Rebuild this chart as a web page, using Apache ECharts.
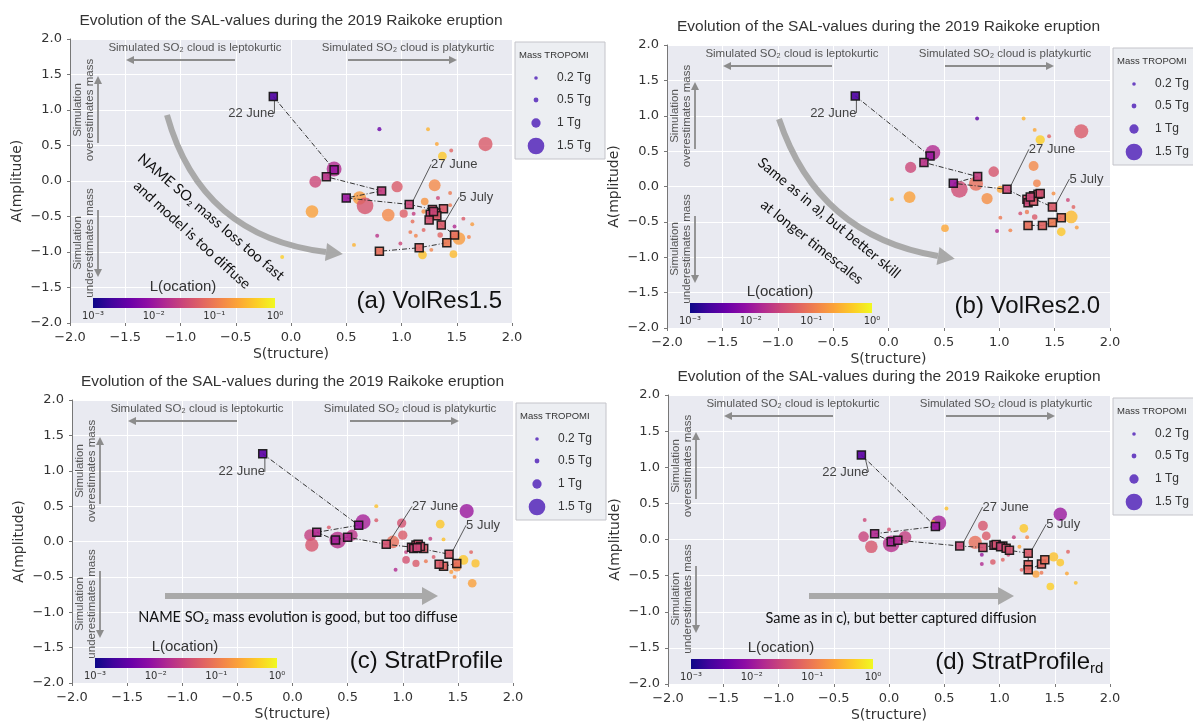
<!DOCTYPE html>
<html>
<head>
<meta charset="utf-8">
<script src="https://cdn.jsdelivr.net/npm/echarts@6.0.0/dist/echarts.min.js"></script>
<style>
html,body{margin:0;padding:0;background:#fff}
#main{width:1193px;height:724px}
</style>
</head>
<body>
<div id="main"></div>
<script>
// circles: [S, A, mass TROPOMI (Tg), log10 L]
var circA = [
  [1.76,0.52,1.35,-1.3],[0.80,0.73,0.35,-2.4],[1.24,0.73,0.3,-0.5],[1.37,0.35,0.95,-0.35],
  [1.32,0.52,0.3,-0.6],[1.45,0.43,0.3,-1.2],[0.39,0.17,1.4,-1.8],[0.22,-0.01,1.2,-1.5],
  [0.96,-0.08,1.15,-1.3],[1.30,-0.06,1.2,-0.85],[0.62,-0.24,1.3,-0.7],[0.67,-0.35,1.5,-1.35],
  [0.19,-0.43,1.25,-0.65],[0.88,-0.48,1.25,-0.85],[1.02,-0.46,0.9,-1.25],[1.21,-0.29,0.85,-0.75],
  [1.52,-0.81,1.25,-0.7],[1.19,-1.04,0.95,-0.4],[1.47,-1.03,0.85,-0.45],[1.35,-0.76,0.6,-1.2],
  [1.08,-0.72,0.3,-1.0],[1.13,-0.77,0.3,-0.9],[0.99,-0.88,0.3,-1.5],[0.78,-0.77,0.3,-1.7],
  [0.57,-0.90,0.3,-0.5],[1.56,-0.53,0.3,-1.3],[1.64,-0.61,0.3,-0.7],[1.61,-0.79,0.3,-0.9],
  [1.10,-0.57,0.3,-1.1],[1.20,-0.69,0.3,-1.2],[1.33,-0.24,0.35,-1.5],[1.44,-0.34,0.3,-1.0],
  [1.48,-0.64,0.3,-1.8],[-0.08,-1.07,0.3,-0.3],[1.27,-0.97,0.3,-0.9],[1.44,-0.17,0.3,-1.0],
  [1.20,-0.43,0.4,-0.8],[1.11,-0.46,0.3,-1.6]
];
// daily model squares: [S, A, log10 L]
var sqA = [
  [-0.16,1.19,-2.6],[0.39,0.16,-2.0],[0.32,0.06,-1.7],[0.82,-0.14,-1.6],[0.50,-0.24,-2.0],
  [1.07,-0.33,-1.5],[1.28,-0.40,-1.4],[1.38,-0.39,-1.3],[1.31,-0.45,-1.4],[1.26,-0.47,-1.5],
  [1.32,-0.49,-1.3],[1.25,-0.55,-1.4],[1.29,-0.43,-1.5],[1.36,-0.62,-1.3],[1.48,-0.76,-1.1],
  [1.41,-0.87,-1.0],[1.16,-0.94,-1.2],[0.80,-0.99,-1.1]
];
var circB = [
  [1.74,0.78,1.35,-1.3],[0.80,0.96,0.3,-2.5],[1.22,0.96,0.3,-0.5],[1.37,0.66,1.0,-0.3],
  [1.32,0.80,0.3,-0.6],[1.45,0.71,0.3,-1.2],[0.40,0.48,1.4,-1.8],[0.20,0.27,1.15,-1.5],
  [0.95,0.21,1.1,-1.35],[1.31,0.29,1.05,-0.85],[0.79,0.04,1.35,-1.1],[0.64,-0.04,1.5,-1.45],
  [0.19,-0.15,1.2,-0.65],[0.89,-0.17,1.15,-0.8],[1.01,-0.04,0.8,-0.6],[1.34,0.045,0.85,-0.9],
  [0.51,-0.59,0.85,-0.6],[1.65,-0.43,1.25,-0.45],[1.56,-0.64,0.95,-0.35],[1.32,-0.43,0.6,-1.3],
  [1.25,-0.36,0.4,-1.0],[0.98,-0.63,0.3,-1.8],[1.10,-0.62,0.3,-0.9],[1.19,-0.38,0.3,-1.4],
  [1.01,-0.44,0.3,-1.0],[1.67,-0.29,0.3,-1.2],[1.49,-0.10,0.3,-0.8],[1.62,-0.19,0.3,-1.5],
  [0.03,-0.18,0.35,-0.5],[1.70,-0.58,0.3,-0.7]
];
var sqB = [
  [-0.30,1.28,-2.6],[0.375,0.43,-2.0],[0.32,0.34,-1.7],[0.805,0.14,-1.6],[0.585,0.045,-2.0],
  [1.07,-0.04,-1.5],[1.25,-0.18,-1.4],[1.31,-0.13,-1.3],[1.35,-0.11,-1.4],[1.26,-0.23,-1.5],
  [1.31,-0.21,-1.3],[1.37,-0.10,-1.4],[1.28,-0.15,-1.5],[1.48,-0.29,-1.3],[1.56,-0.44,-1.1],
  [1.48,-0.51,-1.0],[1.39,-0.55,-1.2],[1.26,-0.55,-1.1]
];
var circC = [
  [1.58,0.43,1.35,-2.0],[0.64,0.28,1.4,-1.9],[1.34,0.245,0.95,-0.35],[0.99,0.26,1.0,-1.4],
  [0.16,0.09,1.2,-1.6],[0.175,-0.05,1.3,-1.35],[0.41,0.02,1.5,-1.75],[0.54,0.09,1.15,-1.7],
  [0.91,-0.005,1.25,-1.1],[1.00,0.09,1.0,-1.3],[1.03,-0.26,0.85,-1.4],[1.12,-0.31,0.8,-1.3],
  [1.55,-0.26,1.05,-0.35],[1.66,-0.31,0.9,-0.4],[1.63,-0.59,0.95,-0.65],[1.49,-0.36,1.0,-0.8],
  [0.76,0.50,0.3,-0.4],[0.76,0.30,0.3,-1.3],[0.33,0.20,0.3,-1.3],[1.25,0.04,0.3,-1.6],
  [1.37,0.03,0.3,-0.4],[0.935,-0.40,0.3,-1.8],[1.47,-0.50,0.3,-0.8],[1.62,-0.15,0.3,-1.2],
  [1.28,-0.22,0.3,-1.3],[1.03,-0.15,0.3,-1.6],[1.21,-0.28,0.3,-1.0],[1.44,-0.43,0.35,-0.7]
];
var sqC = [
  [-0.27,1.24,-2.5],[0.60,0.23,-2.0],[0.22,0.13,-1.8],[0.39,0.02,-1.9],[0.50,0.06,-1.8],
  [0.85,-0.04,-1.4],[1.08,-0.08,-1.5],[1.12,-0.05,-1.4],[1.14,-0.04,-1.4],[1.19,-0.10,-1.3],
  [1.10,-0.10,-1.5],[1.16,-0.07,-1.4],[1.13,-0.09,-1.5],[1.42,-0.18,-1.3],[1.49,-0.31,-1.1],
  [1.37,-0.35,-1.2],[1.33,-0.32,-1.3]
];
var circD = [
  [1.55,0.35,1.3,-2.0],[0.45,0.23,1.4,-1.9],[1.22,0.155,0.95,-0.35],[0.85,0.19,1.05,-1.35],
  [0.88,0.05,0.95,-1.3],[0.78,-0.04,1.3,-1.1],[-0.23,0.04,1.1,-1.55],[-0.16,-0.10,1.25,-1.35],
  [0.02,-0.06,1.5,-1.75],[0.145,0.03,1.25,-1.6],[0.94,-0.31,0.6,-1.3],[1.49,-0.24,1.0,-0.4],
  [1.55,-0.32,0.85,-0.35],[1.33,-0.48,0.8,-0.65],[1.46,-0.65,0.85,-0.3],[0.52,0.43,0.3,-0.4],
  [0.40,0.24,0.35,-0.5],[-0.22,0.27,0.3,-1.5],[0.0,0.14,0.3,-1.4],[0.84,-0.21,0.3,-2.0],
  [0.84,-0.34,0.3,-1.8],[1.08,-0.21,0.3,-1.5],[1.13,0.03,0.3,-1.6],[1.18,-0.10,0.3,-0.6],
  [1.25,0.03,0.3,-0.9],[1.62,-0.17,0.3,-1.2],[1.61,-0.47,0.3,-0.6],[1.69,-0.60,0.3,-0.4],
  [1.38,-0.46,0.3,-1.0],[1.20,-0.42,0.3,-1.2],[1.03,-0.28,0.3,-1.2]
];
var sqD = [
  [-0.25,1.17,-2.5],[0.42,0.18,-2.0],[-0.13,0.08,-1.8],[0.02,-0.03,-1.9],[0.08,-0.01,-1.8],
  [0.64,-0.09,-1.5],[0.85,-0.11,-1.4],[0.95,-0.08,-1.5],[0.97,-0.07,-1.4],[1.03,-0.09,-1.4],
  [1.01,-0.10,-1.5],[1.06,-0.12,-1.4],[1.09,-0.15,-1.4],[1.26,-0.19,-1.3],[1.26,-0.35,-1.2],
  [1.26,-0.42,-1.2],[1.38,-0.34,-1.2],[1.41,-0.28,-1.1]
];

var dateLabels = ['22 June', '27 June', '5 July'];
var dateIdx = [0, 5, 13];
var massLegend = [0.2, 0.5, 1, 1.5];
var massText = ['0.2 Tg', '0.5 Tg', '1 Tg', '1.5 Tg'];
var cbarTicks = ['10\u207b\u00b3', '10\u207b\u00b2', '10\u207b\u00b9', '10\u2070'];
var panelNames = ['(a) VolRes1.5', '(b) VolRes2.0', '(c) StratProfile', '(d) StratProfile'];
var titleText = 'Evolution of the SAL-values during the 2019 Raikoke eruption';

var plasma = ['#0d0887','#41049d','#6a00a8','#8f0da4','#b12a90','#cc4778','#e16462','#f2844b','#fca636','#fcce25','#f0f921'];

var grids = [
  {left: 70, top: 39, width: 442, height: 284},
  {left: 667, top: 45, width: 443, height: 283},
  {left: 72, top: 400, width: 441, height: 283},
  {left: 668, top: 395, width: 442, height: 289}
];
// label offsets (px) for 22 June / 27 June / 5 July
var labOff = [
  [[-22, 17], [45, -40], [35, -28]],
  [[-22, 17], [45, -40], [34, -28]],
  [[-21, 18], [49, -38], [34, -29]],
  [[-16, 17], [46, -39], [35, -29]]
];

function sz(m){ return 3.4 + 5.9 * m * m; }
function fmt(v){ return v.toFixed(1).replace('-', '\u2212'); }

var chart = echarts.init(document.getElementById('main'));
var circs = [circA, circB, circC, circD];
var sqs = [sqA, sqB, sqC, sqD];
var xAxes = [], yAxes = [], series = [], circIdx = [], sqIdx = [];

for (var i = 0; i < 4; i++) {
  xAxes.push({
    gridIndex: i, type: 'value', min: -2, max: 2, interval: 0.5,
    name: 'S(tructure)', nameLocation: 'middle', nameGap: 24,
    nameTextStyle: {fontFamily: 'DejaVu Sans', fontSize: 14, color: '#333'},
    axisLine: {show: false, onZero: false},
    axisTick: {show: true, length: 3, lineStyle: {color: '#777'}},
    axisLabel: {formatter: fmt, margin: 8, fontFamily: 'DejaVu Sans', fontSize: 13, color: '#333'},
    splitLine: {lineStyle: {color: '#ffffff', width: 1}}
  });
  yAxes.push({
    gridIndex: i, type: 'value', min: -2, max: 2, interval: 0.5,
    name: 'A(mplitude)', nameLocation: 'middle', nameGap: 46,
    nameTextStyle: {fontFamily: 'DejaVu Sans', fontSize: 14, color: '#333'},
    axisLine: {show: true, onZero: false, lineStyle: {color: '#777', width: 1}},
    axisTick: {show: true, length: 3, lineStyle: {color: '#777'}},
    axisLabel: {formatter: fmt, margin: 8, fontFamily: 'DejaVu Sans', fontSize: 13, color: '#333'},
    splitLine: {lineStyle: {color: '#ffffff', width: 1}}
  });
  circIdx.push(series.length);
  series.push({
    type: 'scatter', xAxisIndex: i, yAxisIndex: i, data: circs[i], silent: true, z: 2,
    symbolSize: function (v) { return sz(v[2]); },
    itemStyle: {opacity: 0.8}
  });
  series.push({
    type: 'line', xAxisIndex: i, yAxisIndex: i, silent: true, z: 3, symbol: 'none',
    data: sqs[i].map(function (d) { return [d[0], d[1]]; }),
    lineStyle: {color: '#333', width: 1, type: [5, 2, 1, 2]}
  });
  sqIdx.push(series.length);
  series.push({
    type: 'scatter', xAxisIndex: i, yAxisIndex: i, silent: true, z: 4,
    symbol: 'rect', symbolSize: 8,
    itemStyle: {borderColor: '#151515', borderWidth: 1.5, opacity: 0.92},
    data: sqs[i].map(function (d, k) {
      var it = {value: d};
      var li = dateIdx.indexOf(k);
      if (li >= 0) it.label = {show: true, formatter: dateLabels[li]};
      return it;
    }),
    label: {show: false, position: 'inside', fontFamily: 'Liberation Sans', fontSize: 13, color: '#333'},
    labelLine: {show: true, lineStyle: {color: '#333', width: 0.8}},
    labelLayout: (function (off) {
      return function (p) {
        var li = dateIdx.indexOf(p.dataIndex);
        if (li < 0) return {};
        return {dx: off[li][0], dy: off[li][1]};
      };
    })(labOff[i])
  });
}

// --- decoration helpers ---
function txt(x, y, s, size, col, align, fam, rot, lh) {
  return {
    type: 'text', x: x, y: y, rotation: rot || 0, z: 100, silent: true,
    style: {text: s, fill: col, fontSize: size, fontFamily: fam || 'Liberation Sans',
      align: align || 'center', verticalAlign: 'middle', lineHeight: lh || size * 1.2}
  };
}
function arrow(x0, y0, x1, y1, lw, hl, hw, col) {
  var dx = x1 - x0, dy = y1 - y0, L = Math.sqrt(dx * dx + dy * dy), ux = dx / L, uy = dy / L;
  var bx = x1 - ux * hl, by = y1 - uy * hl;
  return [
    {type: 'line', z: 100, silent: true, shape: {x1: x0, y1: y0, x2: bx, y2: by}, style: {stroke: col, lineWidth: lw}},
    {type: 'polygon', z: 100, silent: true, shape: {points: [[x1, y1], [bx - uy * hw, by + ux * hw], [bx + uy * hw, by - ux * hw]]}, style: {fill: col}}
  ];
}
// quadratic grey arrow, head continues the end tangent
function curved(x0, y0, cx, cy, x1, y1) {
  var dx = x1 - cx, dy = y1 - cy, L = Math.sqrt(dx * dx + dy * dy), ux = dx / L, uy = dy / L, hw = 9, hl = 17;
  return [
    {type: 'bezierCurve', z: 100, silent: true, shape: {x1: x0, y1: y0, cpx1: cx, cpy1: cy, x2: x1, y2: y1},
      style: {stroke: '#a9a9a9', lineWidth: 6, fill: null}},
    {type: 'polygon', z: 100, silent: true,
      shape: {points: [[x1 + ux * hl, y1 + uy * hl], [x1 - uy * hw, y1 + ux * hw], [x1 + uy * hw, y1 - ux * hw]]},
      style: {fill: '#a9a9a9'}}
  ];
}

var stops = plasma.map(function (c, k) { return {offset: k / (plasma.length - 1), color: c}; });
var graphics = [];
var sgray = '#8c8c8c';
for (var p = 0; p < 4; p++) {
  var g = grids[p], L = g.left, T = g.top, R = L + g.width, B = T + g.height;
  graphics.push(txt(L + g.width / 2, T - 18, titleText, 15.5, '#333'));
  graphics.push(txt(L + 125, T + 9, 'Simulated SO\u2082 cloud is leptokurtic', 11.5, '#555'));
  graphics = graphics.concat(arrow(L + 165, T + 21, L + 56, T + 21, 1.8, 8, 4, sgray));
  graphics.push(txt(L + 338, T + 9, 'Simulated SO\u2082 cloud is platykurtic', 11.5, '#555'));
  graphics = graphics.concat(arrow(L + 278, T + 21, L + 387, T + 21, 1.8, 8, 4, sgray));
  graphics.push(txt(L + 14, T + 71, 'Simulation\noverestimates mass', 11.5, '#555', 'center', null, Math.PI / 2, 12));
  graphics = graphics.concat(arrow(L + 28, T + 104, L + 28, T + 37, 1.8, 8, 4, sgray));
  graphics.push(txt(L + 14, T + 204, 'Simulation\nunderestimates mass', 11.5, '#555', 'center', null, Math.PI / 2, 12));
  graphics = graphics.concat(arrow(L + 28, T + 171, L + 28, T + 238, 1.8, 8, 4, sgray));
  // colour bar
  graphics.push({type: 'rect', z: 100, silent: true, shape: {x: L + 23, y: B - 25, width: 182, height: 10},
    style: {fill: new echarts.graphic.LinearGradient(0, 0, 1, 0, stops)}});
  graphics.push(txt(L + 113, B - 36, 'L(ocation)', 15, '#333'));
  for (var k = 0; k < cbarTicks.length; k++) {
    graphics.push(txt(L + 23 + k * 182 / 3, B - 7, cbarTicks[k], 10, '#333', 'center', 'DejaVu Sans'));
  }
  // panel label
  if (p < 3) {
    graphics.push(txt(R - 10, B - 22, panelNames[p], 24, '#111', 'right'));
  } else {
    graphics.push(txt(R - 20, B - 22, panelNames[p], 24, '#111', 'right'));
    graphics.push(txt(R - 20, B - 15, 'rd', 15, '#111', 'left'));
  }
  // mass legend
  graphics.push({type: 'rect', z: 99, silent: true, shape: {x: R + 3, y: T + 3, width: 90, height: 117},
    style: {fill: '#eceef2', stroke: '#c4c4ca', lineWidth: 1}});
  graphics.push(txt(R + 7, T + 16, 'Mass TROPOMI', 9.5, '#333', 'left'));
  var ly = [39, 61, 84, 107];
  for (var m = 0; m < massLegend.length; m++) {
    graphics.push({type: 'circle', z: 100, silent: true, shape: {cx: R + 24, cy: T + ly[m], r: sz(massLegend[m]) / 2},
      style: {fill: '#6b44c2'}});
    graphics.push(txt(R + 45, T + ly[m], massText[m], 12, '#333', 'left'));
  }
}
// big grey arrows and comments
graphics = graphics.concat(curved(167, 115, 201, 237, 326, 252));
graphics.push(txt(211, 217, 'NAME SO\u2082 mass loss too fast', 14.5, '#111', 'center', 'Lato', -0.705));
graphics.push(txt(192, 235, 'and model is too diffuse', 14.5, '#111', 'center', 'Lato', -0.74));
graphics = graphics.concat(curved(779, 119, 818, 236, 938, 256));
graphics.push(txt(829, 218, 'Same as in a), but better skill', 14.5, '#111', 'center', 'Lato', -0.69));
graphics.push(txt(812, 242, 'at longer timescales', 14.5, '#111', 'center', 'Lato', -0.67));
graphics = graphics.concat(arrow(165, 596, 438, 596, 6, 16, 9, '#a9a9a9'));
graphics.push(txt(298, 617, 'NAME SO\u2082 mass evolution is good, but too diffuse', 14.5, '#111', 'center', 'Lato'));
graphics = graphics.concat(arrow(809, 596, 1014, 596, 6, 16, 9, '#a9a9a9'));
graphics.push(txt(901, 618, 'Same as in c), but better captured diffusion', 14.5, '#111', 'center', 'Lato'));

var option = {
  animation: false,
  backgroundColor: '#ffffff',
  grid: grids.map(function (g) {
    return {left: g.left, top: g.top, width: g.width, height: g.height, show: true,
      backgroundColor: '#e9eaf1', borderWidth: 0};
  }),
  xAxis: xAxes,
  yAxis: yAxes,
  visualMap: [
    {type: 'continuous', show: false, min: -3, max: 0, dimension: 3, seriesIndex: circIdx, inRange: {color: plasma}},
    {type: 'continuous', show: false, min: -3, max: 0, dimension: 2, seriesIndex: sqIdx, inRange: {color: plasma}}
  ],
  series: series,
  graphic: graphics
};
chart.setOption(option);
</script>
</body>
</html>
